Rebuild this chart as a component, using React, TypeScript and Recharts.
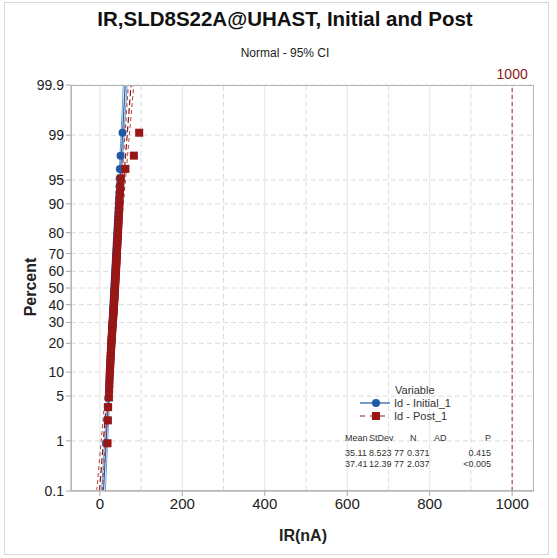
import React from "react";
import {
  ComposedChart,
  Scatter,
  XAxis,
  YAxis,
  CartesianGrid,
  ReferenceLine,
} from "recharts";

// sorted observations (nA)
const INITIAL = [
  15.0, 18.0, 19.9, 21.0, 22.0, 22.8, 23.5, 24.2, 24.8, 25.3, 25.8, 26.3, 26.8, 27.2, 27.6, 28.0,
  28.4, 28.8, 29.1, 29.5, 29.8, 30.1, 30.5, 30.8, 31.1, 31.4, 31.7, 32.0, 32.3, 32.6, 32.9, 33.2,
  33.4, 33.7, 34.0, 34.3, 34.6, 34.8, 35.1, 35.4, 35.6, 35.9, 36.2, 36.5, 36.8, 37.0, 37.3, 37.6,
  37.9, 38.2, 38.5, 38.8, 39.1, 39.4, 39.7, 40.0, 40.4, 40.7, 41.0, 41.4, 41.8, 42.1, 42.5, 42.9,
  43.3, 43.8, 44.2, 44.7, 45.2, 45.8, 46.4, 47.0, 47.6, 48.0, 48.5, 50.2, 55.0,
];
const POST = [
  18.6, 19.5, 20.0, 22.0, 22.6, 23.1, 23.6, 24.2, 24.8, 25.3, 25.8, 26.2, 26.7, 27.1, 27.6, 28.0,
  28.4, 28.9, 29.3, 29.8, 30.2, 30.6, 31.0, 31.5, 31.9, 32.3, 32.7, 33.1, 33.5, 33.8, 34.2, 34.5,
  34.8, 35.1, 35.4, 35.7, 36.0, 36.2, 36.5, 36.8, 37.1, 37.4, 37.7, 38.0, 38.3, 38.6, 38.9, 39.2,
  39.5, 39.8, 40.1, 40.4, 40.7, 41.0, 41.3, 41.6, 41.9, 42.3, 42.6, 43.0, 43.3, 43.7, 44.1, 44.5,
  44.9, 45.4, 45.8, 46.3, 46.8, 47.4, 48.0, 48.8, 49.7, 51.0, 62.0, 82.5, 95.4,
];

// fitted line + 95% CI, read at these percent levels
const BAND_LEVELS = [0.1, 1, 10, 50, 90, 99, 99.9];
const INITIAL_FIT = [8.77, 15.29, 24.18, 35.11, 46.04, 54.93, 61.45];
const INITIAL_LO = [4.2, 11.63, 21.61, 33.21, 43.47, 51.27, 56.87];
const INITIAL_HI = [13.35, 18.96, 26.75, 37.01, 48.61, 58.6, 66.03];
const POST_FIT = [-0.88, 8.59, 21.53, 37.41, 53.29, 66.23, 75.7];
const POST_LO = [-7.53, 3.26, 17.8, 34.64, 49.56, 60.9, 69.05];
const POST_HI = [5.77, 13.92, 25.27, 40.18, 57.03, 71.56, 82.35];

const PERCENT_TICKS = [0.1, 1, 5, 10, 20, 30, 40, 50, 60, 70, 80, 90, 95, 99, 99.9];
const X_TICKS = [0, 200, 400, 600, 800, 1000];
const X_MINOR = [100, 300, 500, 700, 900];

const STATS_HEAD = ["Mean", "StDev", "N", "AD", "P"];
const STATS_INITIAL = ["35.11", "8.523", "77", "0.371", "0.415"];
const STATS_POST = ["37.41", "12.39", "77", "2.037", "<0.005"];

const BLUE = "#1f5aa6";
const RED = "#971616";
const FONT = "'Liberation Sans', Arial, sans-serif";

// inverse normal cdf (Acklam)
function probit(pct: number) {
  const p = pct / 100;
  const a = [-39.69683028665376, 220.9460984245205, -275.9285104469687, 138.357751867269, -30.66479806614716, 2.506628277459239];
  const b = [-54.47609879822406, 161.5858368580409, -155.6989798598866, 66.80131188771972, -13.28068155288572];
  const c = [-0.007784894002430293, -0.3223964580411365, -2.400758277161838, -2.549732539343734, 4.374664141464968, 2.938163982698783];
  const d = [0.007784695709041462, 0.3224671290700398, 2.445134137142996, 3.754408661907416];
  const pl = 0.02425;
  if (p < pl) {
    const q = Math.sqrt(-2 * Math.log(p));
    return (((((c[0] * q + c[1]) * q + c[2]) * q + c[3]) * q + c[4]) * q + c[5]) / ((((d[0] * q + d[1]) * q + d[2]) * q + d[3]) * q + 1);
  }
  if (p > 1 - pl) {
    const q = Math.sqrt(-2 * Math.log(1 - p));
    return -(((((c[0] * q + c[1]) * q + c[2]) * q + c[3]) * q + c[4]) * q + c[5]) / ((((d[0] * q + d[1]) * q + d[2]) * q + d[3]) * q + 1);
  }
  const q = p - 0.5;
  const r = q * q;
  return ((((((a[0] * r + a[1]) * r + a[2]) * r + a[3]) * r + a[4]) * r + a[5]) * q) / (((((b[0] * r + b[1]) * r + b[2]) * r + b[3]) * r + b[4]) * r + 1);
}

// median-rank plotting positions
const toPoints = (vals: number[]) =>
  vals.map((v, i) => ({ x: v, y: probit(((i + 1 - 0.3) / (vals.length + 0.4)) * 100) }));
const toBand = (vals: number[]) => vals.map((v, i) => ({ x: v, y: probit(BAND_LEVELS[i]) }));

const Y_TICKS = PERCENT_TICKS.map(probit);
const Z_MAX = probit(99.9);

const fmtY = (v: number) => {
  const i = Y_TICKS.findIndex((t) => Math.abs(t - v) < 1e-6);
  return i >= 0 ? String(PERCENT_TICKS[i]) : "";
};

const noDot = () => <g />;

const Square = (props: any) => (
  <rect x={props.cx - 4} y={props.cy - 4} width={8} height={8} fill={RED} />
);
const Dot = (props: any) => <circle cx={props.cx} cy={props.cy} r={4} fill={BLUE} />;

const PLOT = { left: 71, top: 85, right: 534, bottom: 491 };

export default function App() {
  const txt: React.CSSProperties = { position: "absolute", fontFamily: FONT, color: "#222", whiteSpace: "nowrap" };
  // left edges for the stats table; last column is right-aligned at x=491
  const headCols = [345, 369, 410, 434];
  const statCols = [345, 369, 394, 407];
  const cell = (s: string, i: number, top: number, cols: number[], key: string) =>
    i === 4 ? (
      <div key={key} style={{ ...txt, right: 557 - 491, top, fontSize: 9, color: "#333" }}>{s}</div>
    ) : (
      <div key={key} style={{ ...txt, left: cols[i], top, fontSize: 9, color: "#333" }}>{s}</div>
    );
  return (
    <div style={{ position: "absolute", left: 0, top: 0, width: 557, height: 558, background: "#fff" }}>
      <div style={{ position: "absolute", left: 4, top: 2, width: 543, height: 551, border: "1px solid #d6d6d6" }} />
      <ComposedChart
        width={557}
        height={558}
        margin={{ top: PLOT.top, right: 557 - PLOT.right, bottom: 37, left: 0 }}
      >
        <CartesianGrid vertical={false} stroke="#dcdcdc" strokeDasharray="5 3" />
        {X_TICKS.map((t) => (
          <ReferenceLine key={"g" + t} x={t} stroke="#e4e4e4" />
        ))}
        {X_MINOR.map((t) => (
          <ReferenceLine key={"m" + t} x={t} stroke="#dcdcdc" strokeDasharray="5 3" />
        ))}
        <XAxis
          type="number"
          dataKey="x"
          domain={[-70, 1053]}
          ticks={X_TICKS}
          allowDataOverflow
          height={30}
          tickSize={5}
          tick={{ fontSize: 15, fill: "#222", fontFamily: FONT }}
          axisLine={{ stroke: "#a8a8a8" }}
          tickLine={{ stroke: "#a8a8a8" }}
        />
        <YAxis
          type="number"
          dataKey="y"
          domain={[-Z_MAX, Z_MAX]}
          ticks={Y_TICKS}
          tickFormatter={fmtY}
          allowDataOverflow
          width={71}
          tickSize={5}
          interval={0}
          tick={{ fontSize: 14, fill: "#222", fontFamily: FONT }}
          axisLine={{ stroke: "#a8a8a8" }}
          tickLine={{ stroke: "#a8a8a8" }}
        />
        <ReferenceLine
          x={1000}
          stroke="#a0282c"
          strokeDasharray="4 3"
          label={{ value: "1000", position: "top", fill: "#8b1a1a", fontSize: 14, fontFamily: FONT, offset: 6 }}
        />
        <Scatter data={toBand(INITIAL_LO)} line={{ stroke: "#6f9fd0", strokeWidth: 1 }} shape={noDot} isAnimationActive={false} />
        <Scatter data={toBand(INITIAL_HI)} line={{ stroke: "#6f9fd0", strokeWidth: 1 }} shape={noDot} isAnimationActive={false} />
        <Scatter data={toBand(INITIAL_FIT)} line={{ stroke: BLUE, strokeWidth: 1.2 }} shape={noDot} isAnimationActive={false} />
        <Scatter data={toBand(POST_LO)} line={{ stroke: "#a84444", strokeWidth: 1, strokeDasharray: "4 3" }} shape={noDot} isAnimationActive={false} />
        <Scatter data={toBand(POST_HI)} line={{ stroke: "#a84444", strokeWidth: 1, strokeDasharray: "4 3" }} shape={noDot} isAnimationActive={false} />
        <Scatter data={toBand(POST_FIT)} line={{ stroke: RED, strokeWidth: 1.2, strokeDasharray: "6 3" }} shape={noDot} isAnimationActive={false} />
        <Scatter data={toPoints(INITIAL)} shape={Dot} isAnimationActive={false} />
        <Scatter data={toPoints(POST)} shape={Square} isAnimationActive={false} />
      </ComposedChart>

      <div
        style={{
          position: "absolute",
          left: PLOT.left,
          top: PLOT.top,
          width: PLOT.right - PLOT.left,
          height: PLOT.bottom - PLOT.top,
          border: "1px solid #b4b4b4",
          boxSizing: "border-box",
          pointerEvents: "none",
        }}
      />

      <div style={{ ...txt, left: 0, width: 570, top: 7, textAlign: "center", fontSize: 20.5, fontWeight: "bold", color: "#111" }}>
        IR,SLD8S22A@UHAST, Initial and Post
      </div>
      <div style={{ ...txt, left: 0, width: 570, top: 46, textAlign: "center", fontSize: 12 }}>Normal - 95% CI</div>
      <div
        style={{
          ...txt,
          left: 31,
          top: 287,
          fontSize: 16,
          fontWeight: "bold",
          transform: "translate(-50%, -50%) rotate(-90deg)",
        }}
      >
        Percent
      </div>
      <div style={{ ...txt, left: 303, top: 536, transform: "translate(-50%, -50%)", fontSize: 16, fontWeight: "bold" }}>
        IR(nA)
      </div>

      {/* legend */}
      <div style={{ ...txt, left: 395, top: 384, fontSize: 11, color: "#333" }}>Variable</div>
      <svg style={{ position: "absolute", left: 358, top: 396 }} width={34} height={28}>
        <line x1={2} y1={7} x2={32} y2={7} stroke={BLUE} strokeWidth={1.2} />
        <circle cx={18} cy={7} r={4} fill={BLUE} />
        <line x1={2} y1={20} x2={32} y2={20} stroke={RED} strokeWidth={1.2} strokeDasharray="5 5" />
        <rect x={14} y={16} width={8} height={8} fill={RED} />
      </svg>
      <div style={{ ...txt, left: 394, top: 397, fontSize: 11, color: "#333" }}>Id - Initial_1</div>
      <div style={{ ...txt, left: 394, top: 410, fontSize: 11, color: "#333" }}>Id - Post_1</div>

      {STATS_HEAD.map((s, i) => cell(s, i, 433, headCols, "h" + i))}
      {STATS_INITIAL.map((s, i) => cell(s, i, 448, statCols, "a" + i))}
      {STATS_POST.map((s, i) => cell(s, i, 459, statCols, "b" + i))}
    </div>
  );
}
